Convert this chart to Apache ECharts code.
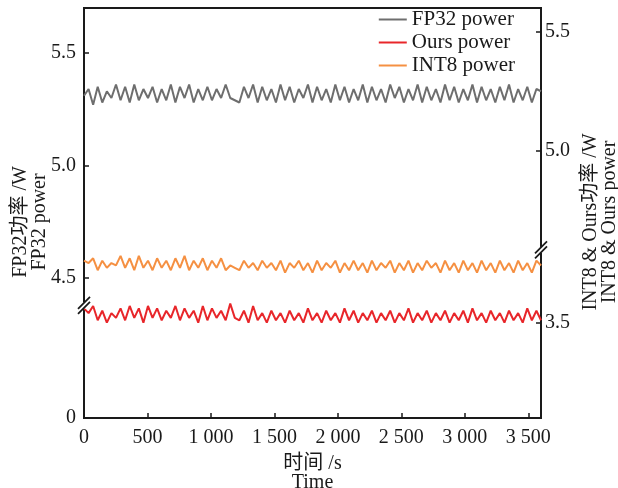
<!DOCTYPE html>
<html><head><meta charset="utf-8">
<script src="https://cdn.jsdelivr.net/npm/echarts@6.0.0/dist/echarts.min.js"></script>
<style>html,body{margin:0;padding:0;background:#fff}#c{width:618px;height:488px}</style>
</head><body><div id="c"></div>
<script>
// Time axis (s)
const time = [
  0, 36, 72, 108, 144, 180, 216, 252, 288, 324,
  360, 396, 432, 468, 504, 540, 576, 612, 648, 684,
  720, 756, 792, 828, 864, 900, 936, 972, 1008, 1044,
  1080, 1116, 1152, 1188, 1224, 1260, 1296, 1332, 1368, 1404,
  1440, 1476, 1512, 1548, 1584, 1620, 1656, 1692, 1728, 1764,
  1800, 1836, 1872, 1908, 1944, 1980, 2016, 2052, 2088, 2124,
  2160, 2196, 2232, 2268, 2304, 2340, 2376, 2412, 2448, 2484,
  2520, 2556, 2592, 2628, 2664, 2700, 2736, 2772, 2808, 2844,
  2880, 2916, 2952, 2988, 3024, 3060, 3096, 3132, 3168, 3204,
  3240, 3276, 3312, 3348, 3384, 3420, 3456, 3492, 3528, 3564,
  3600
];
// FP32 power (W) - left axis
const fp32Power = [
  5.31, 5.34, 5.27, 5.35, 5.28, 5.33, 5.30, 5.36, 5.29, 5.35,
  5.28, 5.36, 5.29, 5.34, 5.30, 5.35, 5.28, 5.34, 5.29, 5.36,
  5.28, 5.35, 5.30, 5.36, 5.28, 5.34, 5.29, 5.35, 5.29, 5.34,
  5.30, 5.36, 5.30, 5.29, 5.28, 5.35, 5.30, 5.36, 5.28, 5.35,
  5.29, 5.34, 5.28, 5.36, 5.29, 5.35, 5.28, 5.34, 5.30, 5.36,
  5.28, 5.35, 5.29, 5.34, 5.28, 5.36, 5.29, 5.35, 5.28, 5.34,
  5.29, 5.36, 5.28, 5.35, 5.29, 5.34, 5.28, 5.36, 5.30, 5.35,
  5.28, 5.34, 5.29, 5.36, 5.28, 5.35, 5.29, 5.34, 5.28, 5.36,
  5.29, 5.35, 5.28, 5.34, 5.29, 5.36, 5.28, 5.35, 5.29, 5.34,
  5.28, 5.35, 5.29, 5.36, 5.28, 5.34, 5.29, 5.35, 5.28, 5.34,
  5.33
];
// Ours power (W) - right axis
const oursPower = [
  3.56, 3.54, 3.57, 3.51, 3.55, 3.50, 3.54, 3.52, 3.56, 3.51,
  3.57, 3.52, 3.56, 3.50, 3.57, 3.52, 3.56, 3.51, 3.55, 3.52,
  3.57, 3.51, 3.56, 3.52, 3.55, 3.50, 3.57, 3.51, 3.56, 3.52,
  3.55, 3.51, 3.58, 3.52, 3.51, 3.55, 3.50, 3.57, 3.51, 3.54,
  3.50, 3.55, 3.51, 3.54, 3.50, 3.55, 3.51, 3.54, 3.50, 3.56,
  3.51, 3.54, 3.50, 3.55, 3.51, 3.54, 3.50, 3.56, 3.51, 3.55,
  3.50, 3.54, 3.51, 3.55, 3.50, 3.54, 3.51, 3.55, 3.50, 3.54,
  3.51, 3.56, 3.50, 3.54, 3.51, 3.55, 3.50, 3.54, 3.51, 3.55,
  3.50, 3.54, 3.51, 3.55, 3.50, 3.56, 3.51, 3.54, 3.50, 3.55,
  3.51, 3.54, 3.50, 3.55, 3.51, 3.54, 3.50, 3.56, 3.51, 3.55,
  3.51
];
// INT8 power (W) - right axis
const int8Power = [
  3.76, 3.75, 3.77, 3.72, 3.76, 3.73, 3.75, 3.74, 3.78, 3.73,
  3.77, 3.72, 3.78, 3.73, 3.76, 3.72, 3.77, 3.73, 3.76, 3.72,
  3.77, 3.73, 3.78, 3.72, 3.76, 3.73, 3.77, 3.72, 3.76, 3.73,
  3.77, 3.72, 3.74, 3.73, 3.72, 3.76, 3.73, 3.75, 3.72, 3.76,
  3.73, 3.75, 3.72, 3.76, 3.71, 3.75, 3.73, 3.76, 3.72, 3.75,
  3.71, 3.76, 3.72, 3.75, 3.73, 3.76, 3.71, 3.75, 3.72, 3.76,
  3.72, 3.75, 3.71, 3.76, 3.72, 3.75, 3.73, 3.76, 3.71, 3.75,
  3.72, 3.76, 3.71, 3.75, 3.72, 3.76, 3.73, 3.75, 3.71, 3.76,
  3.72, 3.75, 3.71, 3.76, 3.72, 3.75, 3.71, 3.76, 3.72, 3.75,
  3.71, 3.76, 3.72, 3.75, 3.71, 3.76, 3.72, 3.75, 3.71, 3.76,
  3.74
];
const leftTicks = [0, 4.5, 5.0, 5.5];
const rightTicks = [3.5, 5.0, 5.5];
const seriesNames = ['FP32 power', 'Ours power', 'INT8 power'];
const colors = ['#6e6e6e', '#e8262a', '#f59042'];

const FONT = '"Liberation Serif", "Noto Sans CJK SC", serif';
const chart = echarts.init(document.getElementById('c'), null, {renderer: 'canvas'});
const pair = arr => arr.map((v, i) => [time[i], v]);
const axisLine = {show: true, lineStyle: {color: '#1a1a1a', width: 2}};
const option = {
  animation: false,
  backgroundColor: '#fff',
  grid: {left: 84, right: 77, top: 8, bottom: 70, containLabel: false, outerBoundsMode: 'none',
    show: true, borderColor: '#1a1a1a', borderWidth: 2},
  legend: {
    orient: 'vertical', right: 103, top: 9, itemWidth: 28, itemHeight: 2, itemGap: 2, padding: 0,
    textStyle: {fontFamily: FONT, fontSize: 21, color: '#1a1a1a', lineHeight: 20},
    data: seriesNames.map((n, i) => ({name: n, icon: 'rect', itemStyle: {color: colors[i]}}))
  },
  xAxis: {
    type: 'value', min: 0, max: 3600, interval: 500,
    axisLine: axisLine, splitLine: {show: false},
    axisTick: {inside: true, length: 5, lineStyle: {color: '#1a1a1a', width: 1.5}},
    axisLabel: {fontFamily: FONT, fontSize: 20, color: '#1a1a1a', margin: 10, showMaxLabel: false,
      formatter: v => v >= 1000 ? Math.floor(v / 1000) + ' ' + String(v % 1000).padStart(3, '0') : String(v)},
    name: '时间 /s\nTime', nameLocation: 'middle', nameGap: 36,
    nameTextStyle: {fontFamily: FONT, fontSize: 20, color: '#1a1a1a', lineHeight: 19}
  },
  yAxis: [{
    type: 'value', position: 'left', min: 0, max: 5.7,
    breaks: [{start: 0.48, end: 4.398, gap: 0.04}],
    breakArea: {show: false},
    axisLine: axisLine, splitLine: {show: false},
    axisTick: {inside: true, length: 5, customValues: leftTicks, lineStyle: {color: '#1a1a1a', width: 1.5}},
    axisLabel: {fontFamily: FONT, fontSize: 20, color: '#1a1a1a', margin: 8, customValues: leftTicks,
      formatter: v => v === 0 ? '0' : v.toFixed(1)},
    name: 'FP32功率 /W\nFP32 power', nameLocation: 'middle', nameGap: 35, nameRotate: 90,
    nameMoveOverlap: false,
    nameTextStyle: {fontFamily: FONT, fontSize: 20, color: '#1a1a1a', lineHeight: 19, padding: [0, 18, 0, 0]}
  }, {
    type: 'value', position: 'right', min: 3.1, max: 5.6,
    breaks: [{start: 3.79, end: 4.6, gap: 0.03}],
    breakArea: {show: false},
    axisLine: axisLine, splitLine: {show: false},
    axisTick: {inside: true, length: 5, customValues: rightTicks, lineStyle: {color: '#1a1a1a', width: 1.5}},
    axisLabel: {fontFamily: FONT, fontSize: 20, color: '#1a1a1a', margin: 4, customValues: rightTicks,
      formatter: v => v.toFixed(1)},
    name: 'INT8 & Ours功率 /W\nINT8 & Ours power', nameLocation: 'middle', nameGap: 38, nameRotate: 90,
    nameTextStyle: {fontFamily: FONT, fontSize: 20, color: '#1a1a1a', lineHeight: 19, padding: [0, 18, 0, 0]}
  }],
  series: [0, 1, 2].map(i => ({
    name: seriesNames[i], type: 'line', yAxisIndex: i === 0 ? 0 : 1,
    data: pair([fp32Power, oursPower, int8Power][i]), symbol: 'none',
    lineStyle: {color: colors[i], width: 2}, itemStyle: {color: colors[i]}
  }))
};
chart.setOption(option);

function breakMark(axisIdx, s, e, xVal) {
  const y1 = chart.convertToPixel({yAxisIndex: axisIdx}, s);
  const y2 = chart.convertToPixel({yAxisIndex: axisIdx}, e);
  const x = chart.convertToPixel({xAxisIndex: 0}, xVal);
  const yc = (y1 + y2) / 2;
  const els = [{type: 'rect', shape: {x: x - 3, y: yc - 3, width: 6, height: 6}, style: {fill: '#fff'}, z: 100}];
  [-2.5, 2.5].forEach(d => els.push({
    type: 'line', shape: {x1: x - 6, y1: yc + d + 6, x2: x + 6, y2: yc + d - 6},
    style: {stroke: '#1a1a1a', lineWidth: 1.8}, z: 101
  }));
  return els;
}
chart.setOption({graphic: [...breakMark(0, 0.48, 4.398, 0), ...breakMark(1, 3.79, 4.6, 3600)]});
</script></body></html>
